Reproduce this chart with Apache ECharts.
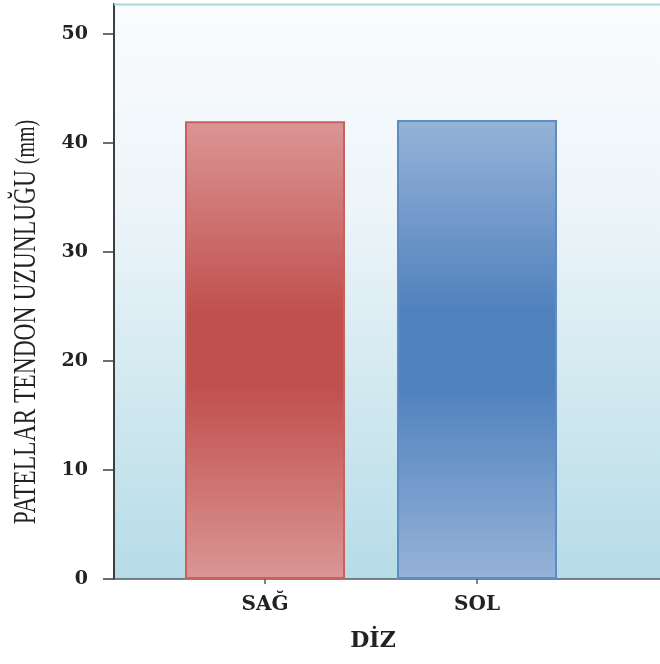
<!DOCTYPE html>
<html>
<head>
<meta charset="utf-8">
<script src="https://cdn.jsdelivr.net/npm/echarts@6/dist/echarts.min.js"></script>
<style>
  html, body { margin: 0; padding: 0; background: #ffffff; overflow: hidden; }
  #chart { display: block; width: 660px; height: 664px; }
</style>
</head>
<body>
<div id="chart"></div>
<script>
// Patellar tendon length by knee side
const categories = ['SAĞ', 'SOL'];
const values = [42.0, 42.1];
const yTicks = [0, 10, 20, 30, 40, 50];
const xAxisTitle = 'DİZ';
const yAxisTitle = 'PATELLAR TENDON UZUNLUĞU ';
const yAxisUnit = '(mm)';

const serif = '"Liberation Serif", "Times New Roman", serif';
const wideSerif = '"DejaVu Serif", "Liberation Serif", serif';

// category i sits at x = i + 1 on a numeric axis so the bands can be offset
const catPos = categories.map((c, i) => i + 1);

function vGrad(edge, mid) {
  return new echarts.graphic.LinearGradient(0, 0, 0, 1, [
    { offset: 0, color: edge },
    { offset: 0.42, color: mid },
    { offset: 0.58, color: mid },
    { offset: 1, color: edge }
  ]);
}
const fills = [vGrad('#da9695', '#c0504d'), vGrad('#96b3d8', '#4f81bd')];
const borders = ['#c9605d', '#5f8cc4'];

const chart = echarts.init(document.getElementById('chart'), null, { renderer: 'canvas' });

chart.setOption({
  animation: false,
  grid: {
    left: 114, right: 0, top: 4, bottom: 85,
    show: true,
    borderWidth: 0,
    backgroundColor: new echarts.graphic.LinearGradient(0, 0, 0, 1, [
      { offset: 0, color: '#fafcfe' },
      { offset: 0.35, color: '#edf5f9' },
      { offset: 1, color: '#b6dce7' }
    ])
  },
  xAxis: {
    type: 'value',
    min: 1 - 151 / 212,
    max: 2 + 183 / 212,
    splitLine: { show: false },
    axisLine: { show: true, lineStyle: { color: '#555c60', width: 1.5 } },
    axisTick: { show: true, length: 5, customValues: catPos, lineStyle: { color: '#555c60', width: 1.5 } },
    axisLabel: {
      customValues: catPos,
      formatter: v => categories[Math.round(v) - 1] || '',
      margin: 16,
      fontFamily: wideSerif, fontWeight: 'bold', fontSize: 20, color: '#222'
    },
    name: xAxisTitle,
    nameLocation: 'middle',
    nameGap: 51,
    nameTextStyle: {
      fontFamily: wideSerif, fontWeight: 'bold', fontSize: 22, color: '#222',
      padding: [0, 28, 0, 0]
    }
  },
  yAxis: {
    type: 'value',
    min: 0,
    max: 52.75,
    splitLine: { show: false },
    axisLine: { show: true, lineStyle: { color: '#3a3f42', width: 2 } },
    axisTick: { show: true, length: 11, customValues: yTicks, lineStyle: { color: '#3a3f42', width: 1.5 } },
    axisLabel: {
      customValues: yTicks,
      margin: 26,
      fontFamily: wideSerif, fontWeight: 'bold', fontSize: 19, color: '#222'
    }
  },
  graphic: [
    {
      type: 'line',
      shape: { x1: 114, y1: 4.5, x2: 660, y2: 4.5 },
      style: { stroke: '#aad6e3', lineWidth: 2 },
      z: 10
    },
    {
      // y-axis title, widened across its thickness
      type: 'text',
      x: 27, y: 322,
      rotation: Math.PI / 2,
      scaleY: 1.35,
      style: {
        text: '{a|' + yAxisTitle + '}{b|' + yAxisUnit + '}',
        align: 'center', verticalAlign: 'middle',
        rich: {
          a: { fontFamily: serif, fontSize: 23.5, fill: '#222' },
          b: { fontFamily: serif, fontSize: 20, fill: '#222' }
        }
      }
    }
  ],
  series: [{
    type: 'bar',
    barWidth: 160,
    data: values.map((v, i) => ({
      value: [catPos[i], v],
      itemStyle: { color: fills[i], borderColor: borders[i], borderWidth: 2 }
    }))
  }]
});
</script>
</body>
</html>
